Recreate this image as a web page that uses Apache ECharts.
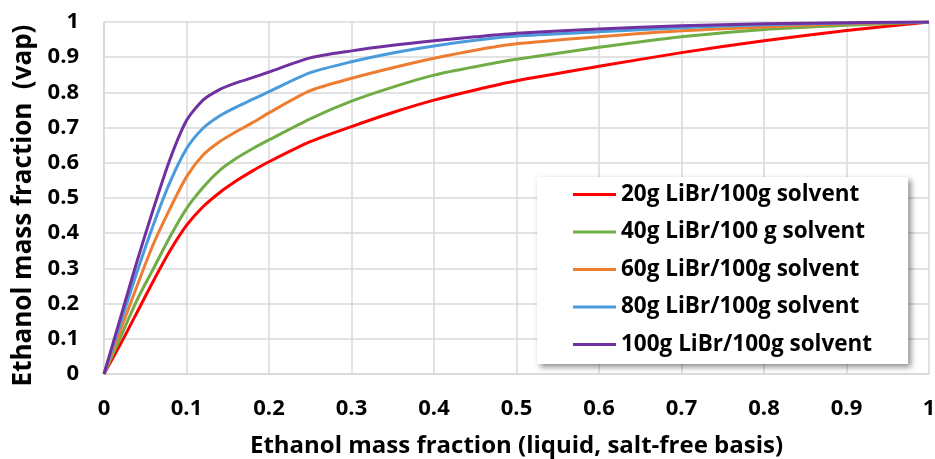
<!DOCTYPE html>
<html>
<head>
<meta charset="utf-8">
<script src="https://cdn.jsdelivr.net/npm/echarts@6/dist/echarts.min.js"></script>
<style>
  html, body { margin: 0; padding: 0; background: #fff; }
  #chart { width: 935px; height: 459px; }
</style>
</head>
<body>
<div id="chart"></div>
<script>
// Liquid ethanol mass fraction (salt-free basis)
const liquidFraction = [0, 0.02, 0.04, 0.06, 0.08, 0.1, 0.12, 0.14, 0.16, 0.18, 0.2,
  0.25, 0.3, 0.35, 0.4, 0.45, 0.5, 0.6, 0.7, 0.8, 0.9, 1];

// Vapour ethanol mass fraction for each LiBr loading
const vap20 = [0, 0.085, 0.175, 0.265, 0.35, 0.422, 0.475, 0.515, 0.548, 0.577, 0.603,
  0.66, 0.703, 0.743, 0.778, 0.807, 0.833, 0.874, 0.913, 0.947, 0.976, 1];
const vap40 = [0, 0.105, 0.21, 0.30, 0.39, 0.47, 0.53, 0.578, 0.612, 0.64, 0.665,
  0.725, 0.775, 0.815, 0.849, 0.873, 0.894, 0.928, 0.958, 0.979, 0.991, 1];
const vap60 = [0, 0.125, 0.25, 0.37, 0.47, 0.56, 0.622, 0.66, 0.688, 0.714, 0.742,
  0.805, 0.84, 0.87, 0.897, 0.92, 0.938, 0.958, 0.975, 0.986, 0.995, 1];
const vap80 = [0, 0.145, 0.29, 0.425, 0.545, 0.64, 0.698, 0.733, 0.758, 0.78, 0.802,
  0.856, 0.887, 0.912, 0.932, 0.948, 0.96, 0.972, 0.984, 0.992, 0.997, 1];
const vap100 = [0, 0.16, 0.32, 0.47, 0.61, 0.72, 0.778, 0.808, 0.827, 0.842, 0.858,
  0.898, 0.918, 0.934, 0.947, 0.958, 0.968, 0.98, 0.989, 0.995, 0.998, 1];

const seriesNames = ['20g LiBr/100g solvent', '40g LiBr/100 g solvent', '60g LiBr/100g solvent',
  '80g LiBr/100g solvent', '100g LiBr/100g solvent'];
const seriesColors = ['#FF0000', '#70AD47', '#ED7D31', '#4A9BDB', '#7030A0'];
const seriesValues = [vap20, vap40, vap60, vap80, vap100];

const xTickLabels = ['0', '0.1', '0.2', '0.3', '0.4', '0.5', '0.6', '0.7', '0.8', '0.9', '1'];
const yTickLabels = ['0', '0.1', '0.2', '0.3', '0.4', '0.5', '0.6', '0.7', '0.8', '0.9', '1'];

const FONT = '"Open Sans"';
const gridColor = '#D9D9D9';

const chart = echarts.init(document.getElementById('chart'), null, { renderer: 'canvas' });

chart.setOption({
  animation: false,
  backgroundColor: '#ffffff',
  grid: { left: 104, right: 6, top: 22, bottom: 85, outerBoundsMode: 'none', containLabel: false },
  xAxis: {
    type: 'value', min: 0, max: 1, interval: 0.1,
    name: 'Ethanol mass fraction (liquid, salt-free basis)',
    nameLocation: 'middle', nameGap: 60,
    nameTextStyle: { fontFamily: FONT, fontWeight: 'bold', fontSize: 24, color: '#000' },
    axisLine: { show: true, lineStyle: { color: gridColor, width: 1.5 } },
    axisTick: { show: false },
    axisLabel: {
      margin: 24, fontFamily: FONT, fontWeight: 'bold', fontSize: 22, color: '#000',
      formatter: v => xTickLabels[Math.round(v * 10)]
    },
    splitLine: { show: true, lineStyle: { color: gridColor, width: 1.5 } }
  },
  yAxis: {
    type: 'value', min: 0, max: 1, interval: 0.1,
    name: 'Ethanol mass fraction  (vap)',
    nameLocation: 'middle', nameGap: 66,
    nameTextStyle: { fontFamily: FONT, fontWeight: 'bold', fontSize: 26, color: '#000', padding: [0, 15, 0, 0] },
    axisLine: { show: true, lineStyle: { color: gridColor, width: 1.5 } },
    axisTick: { show: false },
    axisLabel: {
      margin: 25, fontFamily: FONT, fontWeight: 'bold', fontSize: 22, color: '#000',
      formatter: v => yTickLabels[Math.round(v * 10)]
    },
    splitLine: { show: true, lineStyle: { color: gridColor, width: 1.5 } }
  },
  legend: {
    orient: 'vertical',
    left: 537, top: 177,
    padding: [6, 36, 8, 36],
    icon: 'rect',
    itemWidth: 43, itemHeight: 3, itemGap: 14.5,
    backgroundColor: '#ffffff',
    shadowColor: 'rgba(0,0,0,0.45)', shadowBlur: 6, shadowOffsetX: 3, shadowOffsetY: 3,
    textStyle: { fontFamily: FONT, fontWeight: 'bold', fontSize: 22.5, lineHeight: 23, color: '#000' },
    data: seriesNames
  },
  series: seriesNames.map((name, i) => ({
    name,
    type: 'line',
    data: liquidFraction.map((x, j) => [x, seriesValues[i][j]]),
    smooth: 0.25,
    symbol: 'none',
    color: seriesColors[i],
    lineStyle: { color: seriesColors[i], width: 3 }
  }))
});
</script>
</body>
</html>
